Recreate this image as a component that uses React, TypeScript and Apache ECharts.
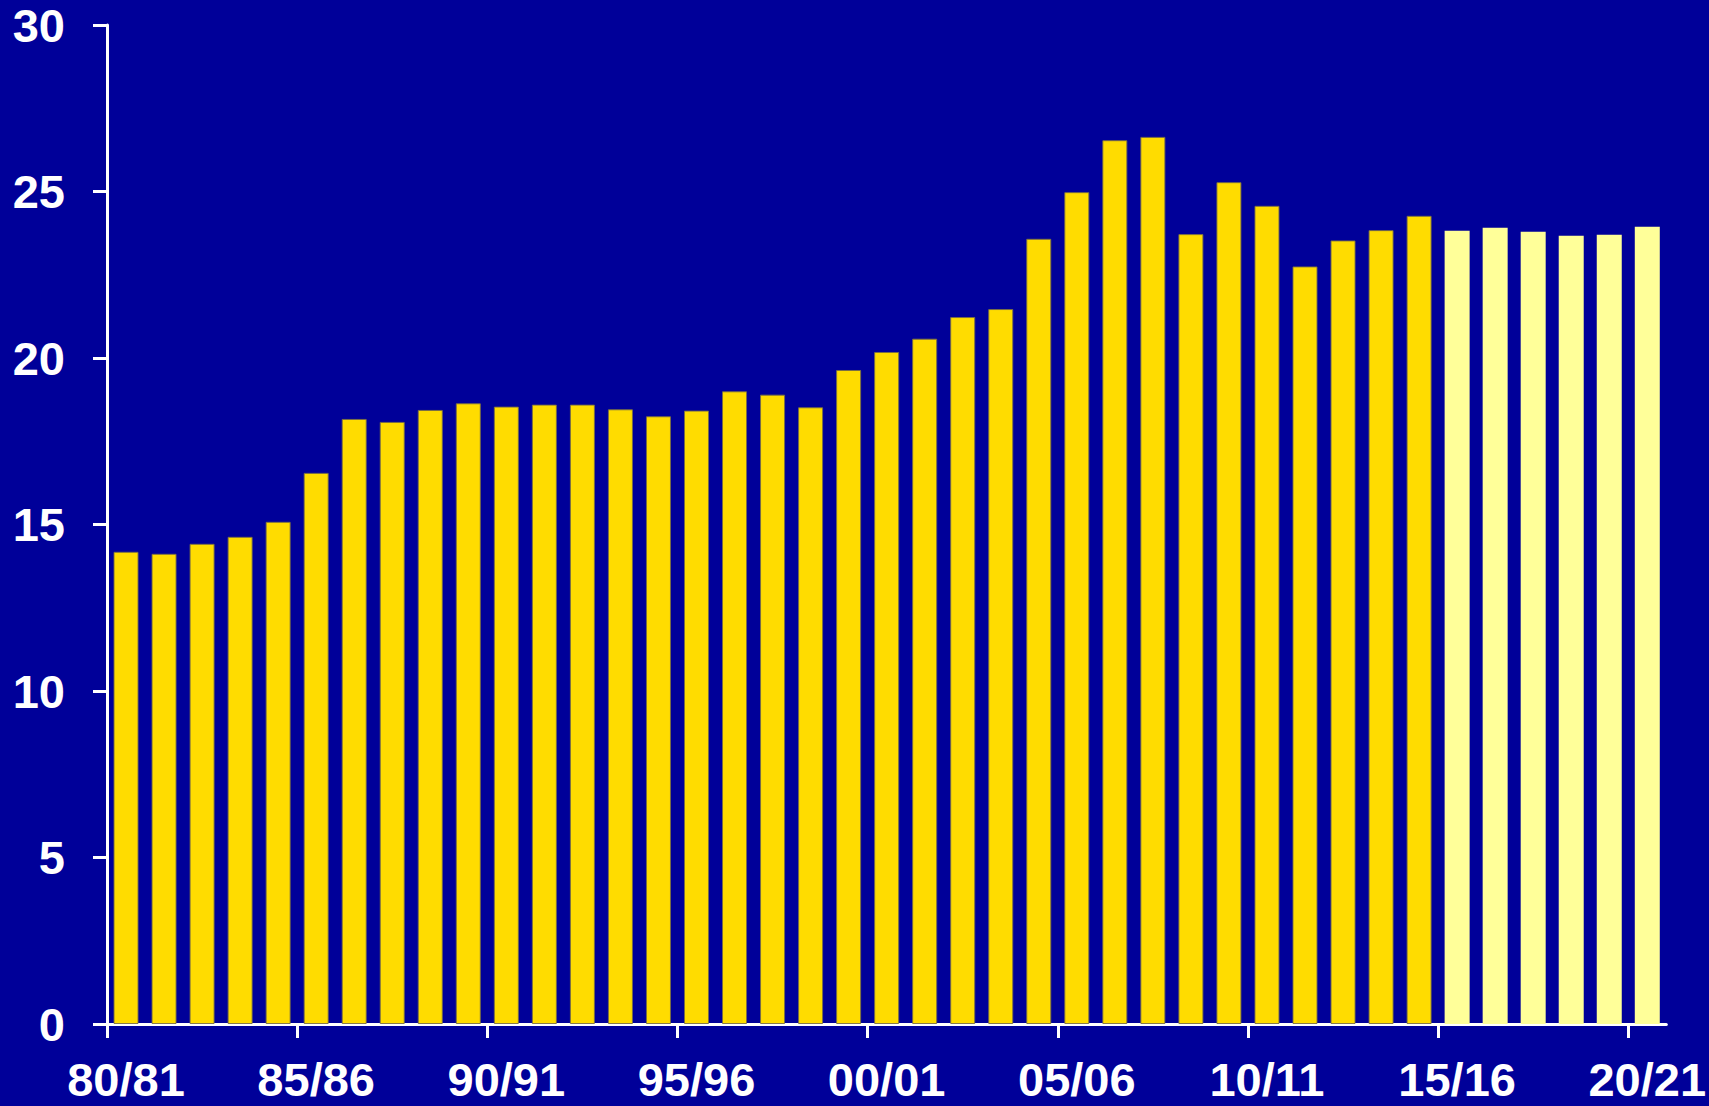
import React, { useEffect, useRef } from "react";
import * as echarts from "echarts";

const categories = [
  "80/81", "81/82", "82/83", "83/84", "84/85", "85/86", "86/87", "87/88", "88/89", "89/90",
  "90/91", "91/92", "92/93", "93/94", "94/95", "95/96", "96/97", "97/98", "98/99", "99/00",
  "00/01", "01/02", "02/03", "03/04", "04/05", "05/06", "06/07", "07/08", "08/09", "09/10",
  "10/11", "11/12", "12/13", "13/14", "14/15", "15/16", "16/17", "17/18", "18/19", "19/20",
  "20/21",
];

const actualValues = [
  14.18, 14.12, 14.42, 14.63, 15.08, 16.55, 18.17, 18.08, 18.44, 18.64,
  18.54, 18.6, 18.6, 18.46, 18.25, 18.42, 19.0, 18.9, 18.52, 19.64,
  20.18, 20.58, 21.23, 21.47, 23.58, 24.98, 26.54, 26.64, 23.72, 25.28,
  24.57, 22.75, 23.53, 23.84, 24.27,
];

const projectedValues = [23.82, 23.91, 23.79, 23.67, 23.7, 23.94];

const tickPositions = [0, 5, 10, 15, 20, 25, 30, 35, 40];

const BG = "#000099";
const YELLOW = "#FFDC00";
const LIGHT_YELLOW = "#FFFF99";
const FONT = "'Liberation Sans', Arial, Helvetica, sans-serif";

export default function App() {
  const ref = useRef<HTMLDivElement | null>(null);

  useEffect(() => {
    document.body.style.margin = "0";
    if (!ref.current) return;
    const chart = echarts.init(ref.current, null, { renderer: "svg" });

    const data = [
      ...actualValues.map((v) => ({
        value: v,
        itemStyle: { color: YELLOW, borderColor: "rgba(120,110,70,0.9)", borderWidth: 1 },
      })),
      ...projectedValues.map((v) => ({
        value: v,
        itemStyle: { color: LIGHT_YELLOW, borderWidth: 0 },
      })),
    ];

    chart.setOption({
      animation: false,
      backgroundColor: BG,
      grid: { left: 107, right: 35, top: 25, bottom: 82, containLabel: false },
      xAxis: [
        {
          type: "category",
          data: categories,
          position: "bottom",
          boundaryGap: true,
          axisLine: { show: true, lineStyle: { color: "#ffffff", width: 3 } },
          axisTick: { show: false },
          axisLabel: {
            interval: 4,
            color: "#ffffff",
            fontSize: 47,
            fontWeight: "bold",
            fontFamily: FONT,
            margin: 32,
          },
          splitLine: { show: false },
        },
        {
          type: "value",
          min: 0,
          max: categories.length,
          position: "bottom",
          axisLine: { show: false },
          axisLabel: { show: false },
          splitLine: { show: false },
          axisTick: {
            show: true,
            customValues: tickPositions,
            length: 14,
            lineStyle: { color: "#ffffff", width: 3 },
          },
        },
      ],
      yAxis: {
        type: "value",
        min: 0,
        max: 30,
        interval: 5,
        axisLine: { show: true, lineStyle: { color: "#ffffff", width: 3 } },
        axisTick: { show: true, length: 14, lineStyle: { color: "#ffffff", width: 3 } },
        axisLabel: {
          color: "#ffffff",
          fontSize: 47,
          fontWeight: "bold",
          fontFamily: FONT,
          margin: 42,
        },
        splitLine: { show: false },
      },
      series: [
        {
          type: "bar",
          xAxisIndex: 0,
          yAxisIndex: 0,
          barWidth: 25,
          data,
        },
      ],
    });

    return () => {
      chart.dispose();
    };
  }, []);

  return (
    <div
      ref={ref}
      style={{ position: "fixed", left: 0, top: 0, width: 1709, height: 1106 }}
    />
  );
}
